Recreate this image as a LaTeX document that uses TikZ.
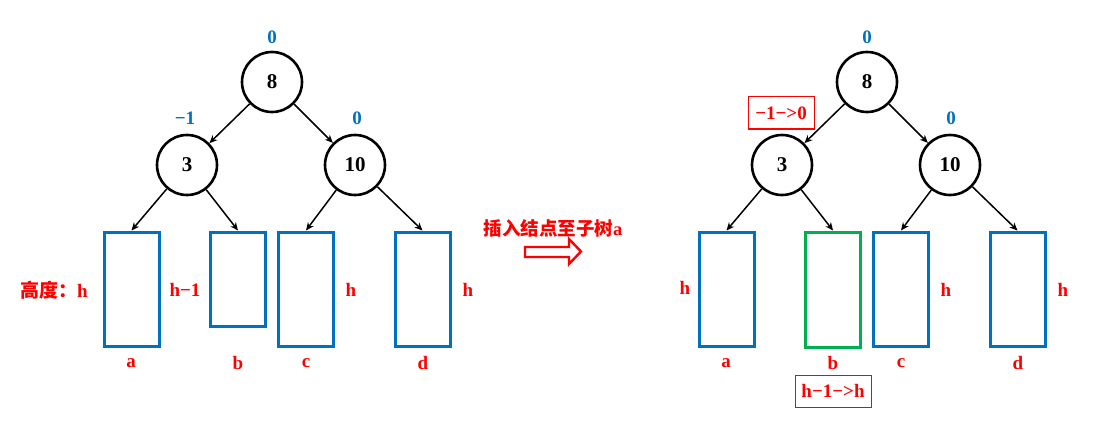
\documentclass[tikz,border=0pt]{standalone}
\usepackage{fontspec}
\setmainfont{Liberation Serif}
\newfontfamily\cjk{Noto Sans CJK SC}
\usetikzlibrary{arrows.meta}
\definecolor{myblue}{RGB}{0,112,192}
\definecolor{mygreen}{RGB}{0,176,80}
\definecolor{myred}{RGB}{255,0,0}
\begin{document}
\begin{tikzpicture}[x=1pt,y=-1pt,
  tn/.style={circle,draw,line width=2.6pt,minimum size=60pt,inner sep=0pt,font=\fontsize{21}{21}\selectfont\bfseries},
  sub/.style={rectangle,draw=myblue,line width=3pt,minimum width=55pt,inner sep=0pt},
  subg/.style={sub,draw=mygreen},
  bal/.style={text=myblue,font=\fontsize{19}{19}\selectfont\bfseries},
  lbl/.style={text=myred,font=\fontsize{19}{19}\selectfont\bfseries},
  chg/.style={draw=myred,line width=1pt,text=myred,inner sep=0pt,font=\fontsize{19}{19}\selectfont\bfseries},
  edge/.style={line width=1.5pt,-{Stealth[length=8pt,width=7pt]}}]
\useasboundingbox (0,0) rectangle (1102,425);
% ---------- left tree ----------
\node[tn] (L8) at (272,82) {8};
\node[tn] (L3) at (187,165) {3};
\node[tn] (L10) at (355,165) {10};
\node[bal] (Lb8) at (272,37) {0};
\node[bal] (Lb3) at (185,118) {−1};
\node[bal] (Lb10) at (357,118) {0};
\node[sub,minimum height=114pt] (La) at (131.5,289) {};
\node[sub,minimum height=94pt] (Lb) at (238,279) {};
\node[sub,minimum height=114pt] (Lc) at (306,289) {};
\node[sub,minimum height=114pt] (Ld) at (422.5,289) {};
\draw[edge] (L8) -- (L3);
\draw[edge] (L8) -- (L10);
\draw[edge] (L3) -- (La.north);
\draw[edge] (L3) -- (Lb.north);
\draw[edge] (L10) -- (Lc.north);
\draw[edge] (L10) -- (Ld.north);
\node[lbl] (Lha) at (54,290) {{\cjk 高度：}h};
\node[lbl] (Lhb) at (185,290) {h−1};
\node[lbl] (Lhc) at (351,290) {h};
\node[lbl] (Lhd) at (468,290) {h};
\node[lbl] (Lna) at (131,363) {a};
\node[lbl] (Lnb) at (238,363) {b};
\node[lbl] (Lnc) at (306,363) {c};
\node[lbl] (Lnd) at (423,363) {d};
% ---------- middle ----------
\node[lbl,font=\fontsize{18.5}{18.5}\selectfont\bfseries] (mid) at (553,228) {{\cjk 插入结点至子树}a};
\draw[draw=myred,line width=2.4pt,miter limit=10] (525,247) -- (569,247) -- (569,239) -- (581,251.5) -- (569,264) -- (569,257) -- (525,257) -- cycle;
% ---------- right tree ----------
\node[tn] (R8) at (867,82) {8};
\node[tn] (R3) at (782,165) {3};
\node[tn] (R10) at (950,165) {10};
\node[bal] (Rb8) at (867,37) {0};
\node[bal] (Rb10) at (951,118) {0};
\node[chg,minimum width=66pt,minimum height=32pt] (Rc3) at (781,113) {−1−>0};
\node[sub,minimum height=114pt] (Ra) at (726.5,289) {};
\node[subg,minimum height=115pt] (Rb) at (833,289.5) {};
\node[sub,minimum height=114pt] (Rc) at (901,289) {};
\node[sub,minimum height=114pt] (Rd) at (1017.5,289) {};
\draw[edge] (R8) -- (R3);
\draw[edge] (R8) -- (R10);
\draw[edge] (R3) -- (Ra.north);
\draw[edge] (R3) -- (Rb.north);
\draw[edge] (R10) -- (Rc.north);
\draw[edge] (R10) -- (Rd.north);
\node[lbl] (Rha) at (685,288) {h};
\node[lbl] (Rhc) at (946,290) {h};
\node[lbl] (Rhd) at (1063,290) {h};
\node[lbl] (Rna) at (726,363) {a};
\node[lbl] (Rnb) at (833,363) {b};
\node[lbl] (Rnc) at (901,363) {c};
\node[lbl] (Rnd) at (1018,363) {d};
\node[chg,minimum width=76pt,minimum height=32pt] (Rcb) at (833,391) {h−1−>h};
\end{tikzpicture}
\end{document}
